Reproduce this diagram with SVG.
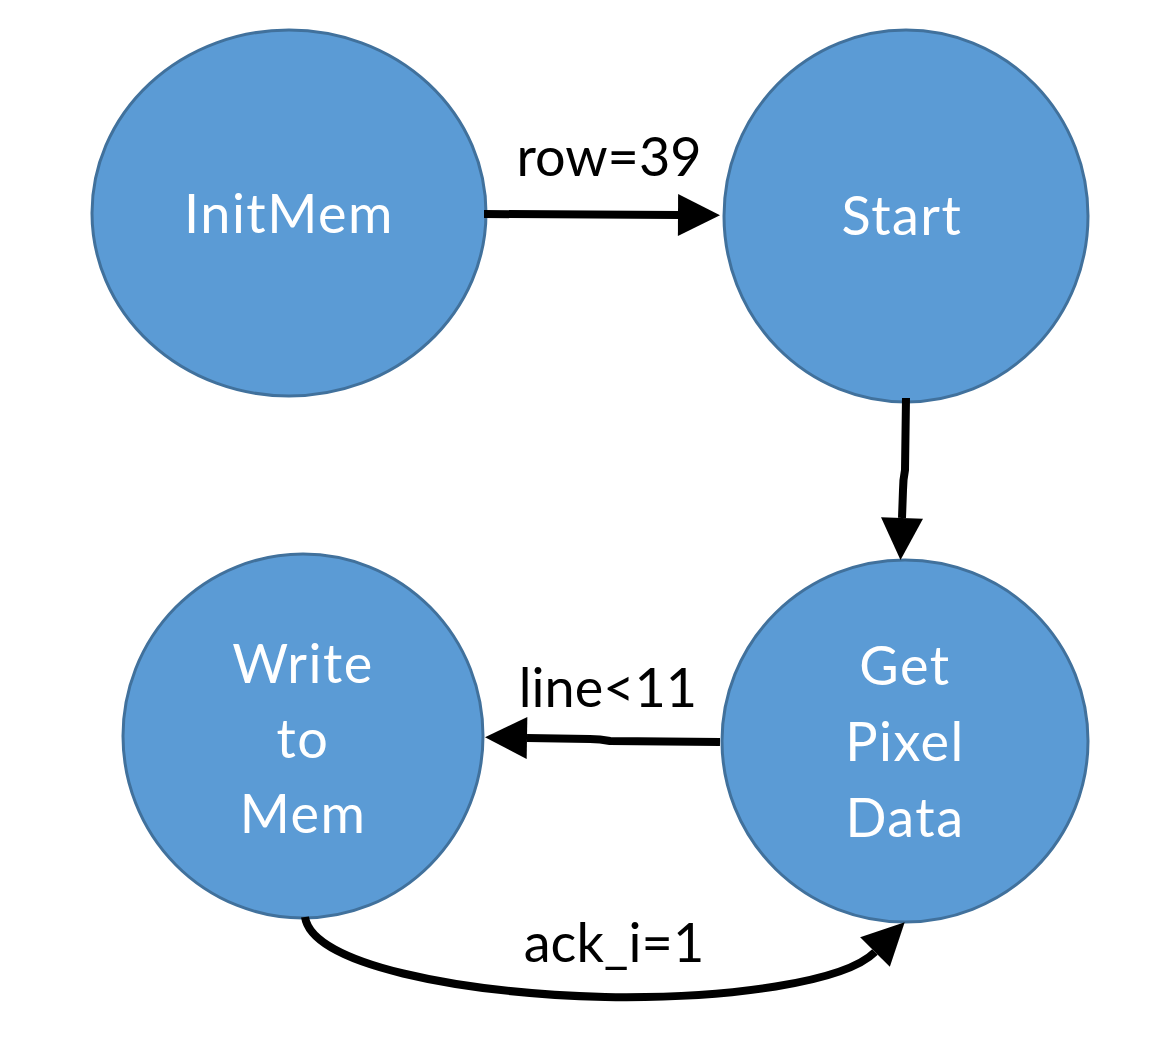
<svg xmlns="http://www.w3.org/2000/svg" width="1168" height="1038" viewBox="0 0 1168 1038">
<style>
.node{fill:#5B9BD5;stroke:#41719C;stroke-width:3}
.nt{font-family:Lato,"Liberation Sans",sans-serif;font-size:54px;fill:#FFFFFF;text-anchor:middle;letter-spacing:1.5px}
.lbl{font-family:Lato,"Liberation Sans",sans-serif;font-size:54px;fill:#000000;text-anchor:middle}
.edge{fill:none;stroke:#000000;stroke-width:8;marker-end:url(#ah)}
</style>
<defs>
<marker id="ah" markerUnits="userSpaceOnUse" viewBox="0 -21 42 42" refX="0" refY="0" markerWidth="42" markerHeight="42" orient="auto" overflow="visible">
<path d="M0,-21 L42,0 L0,21 z" fill="#000000"/>
</marker>
</defs>
<rect width="1168" height="1038" fill="#FFFFFF"/>
<g id="InitMem">
<ellipse class="node" cx="289" cy="213" rx="197" ry="183"/>
<text class="nt" x="289" y="233">InitMem</text>
</g>
<g id="Start">
<ellipse class="node" cx="906" cy="216" rx="182" ry="186"/>
<text class="nt" x="902" y="235">Start</text>
</g>
<g id="WriteToMem">
<ellipse class="node" cx="303" cy="736" rx="180" ry="182"/>
<text class="nt" x="303" y="683">Write</text>
<text class="nt" x="303" y="758">to</text>
<text class="nt" x="303" y="833">Mem</text>
</g>
<g id="GetPixelData">
<ellipse class="node" cx="905" cy="741" rx="183" ry="181"/>
<text class="nt" x="905" y="685">Get</text>
<text class="nt" x="905" y="761">Pixel</text>
<text class="nt" x="905" y="837">Data</text>
</g>
<g id="connectors">
<path class="edge" d="M484,214 L678,215"/>
<path class="edge" d="M906,398 L905,470 Q903,480 903,490 L902,518"/>
<path class="edge" d="M720,742 L610,741 Q600,739 590,739 L527,738"/>
<path class="edge" d="M305,917 C312,965 460,993 605,997 C730,999 845,982 875,952"/>
<text class="lbl" x="609" y="176">row=39</text>
<text class="lbl" x="608" y="707">line&lt;11</text>
<text class="lbl" x="614" y="962">ack_i=1</text>
</g>
</svg>
